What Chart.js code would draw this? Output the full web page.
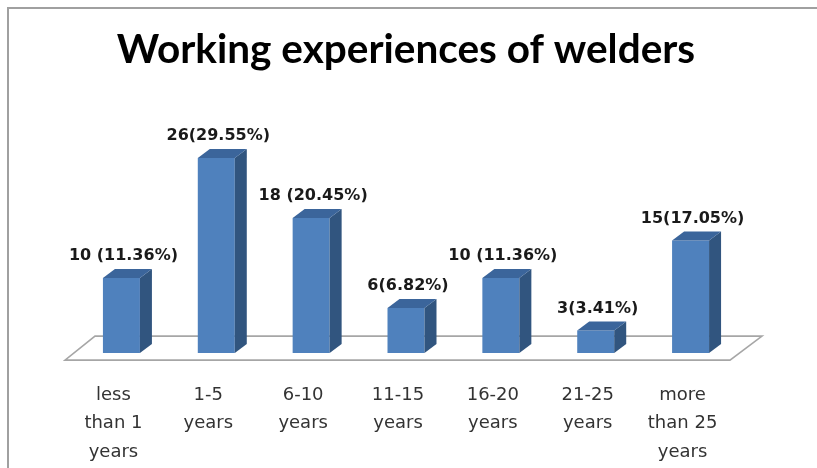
<!DOCTYPE html>
<html>
<head>
<meta charset="utf-8">
<script src="https://cdn.jsdelivr.net/npm/chart.js@4"></script>
<style>
    html, body { margin: 0; padding: 0; background: #fff; overflow: hidden; }
    #wrap { position: relative; width: 817px; height: 468px; }
    #frame {
        position: absolute; left: 7px; top: 7px; width: 820px; height: 470px;
        border-left: 2px solid #a0a0a0; border-top: 2px solid #a0a0a0;
    }
    canvas { position: absolute; left: 0; top: 0; }
</style>
</head>
<body>
<div id="wrap">
    <div id="frame"></div>
    <canvas id="chart" width="817" height="468"></canvas>
</div>
<script>
const categories = [
    ["less", "than 1", "years"],
    ["1-5", "years"],
    ["6-10", "years"],
    ["11-15", "years"],
    ["16-20", "years"],
    ["21-25", "years"],
    ["more", "than 25", "years"]
];
const counts = [10, 26, 18, 6, 10, 3, 15];
const valueLabels = [
    "10 (11.36%)", "26(29.55%)", "18 (20.45%)", "6(6.82%)",
    "10 (11.36%)", "3(3.41%)", "15(17.05%)"
];

// depth of the fake 3d bars
const DX = 12, DY = -9;

const bars3d = {
    id: "bars3d",
    beforeDatasetsDraw(chart) {
        // floor under the bars
        const ctx = chart.ctx;
        const area = chart.chartArea;
        const base = chart.scales.y.getPixelForValue(0);
        const fy = base + 7;
        const x0 = area.left - 9, x1 = area.right - 8;
        ctx.save();
        ctx.beginPath();
        ctx.moveTo(x0, fy);
        ctx.lineTo(x1, fy);
        ctx.lineTo(x1 + 32, fy - 24);
        ctx.lineTo(x0 + 30, fy - 24);
        ctx.closePath();
        ctx.fillStyle = "#ffffff";
        ctx.fill();
        ctx.strokeStyle = "#a6a6a6";
        ctx.lineWidth = 1.6;
        ctx.stroke();
        ctx.restore();
    },
    afterDatasetsDraw(chart) {
        const ctx = chart.ctx;
        const meta = chart.getDatasetMeta(0);
        ctx.save();
        meta.data.forEach((bar, i) => {
            const p = bar.getProps(["x", "y", "base", "width"], true);
            const l = p.x - p.width / 2, r = p.x + p.width / 2;
            // side
            ctx.beginPath();
            ctx.moveTo(r, p.y);
            ctx.lineTo(r + DX, p.y + DY);
            ctx.lineTo(r + DX, p.base + DY);
            ctx.lineTo(r, p.base);
            ctx.closePath();
            ctx.fillStyle = "#31557f";
            ctx.fill();
            // top
            ctx.beginPath();
            ctx.moveTo(l, p.y);
            ctx.lineTo(l + DX, p.y + DY);
            ctx.lineTo(r + DX, p.y + DY);
            ctx.lineTo(r, p.y);
            ctx.closePath();
            ctx.fillStyle = "#3b659b";
            ctx.fill();
            // value label
            ctx.fillStyle = "#1a1a1a";
            ctx.font = "bold 16px 'DejaVu Sans'";
            ctx.textAlign = "center";
            ctx.textBaseline = "middle";
            ctx.fillText(valueLabels[i], p.x + 2, p.y - 22);
        });
        ctx.restore();
    }
};

new Chart(document.getElementById("chart").getContext("2d"), {
    type: "bar",
    data: {
        labels: categories,
        datasets: [{
            data: counts,
            backgroundColor: "#4f81bd",
            borderWidth: 0,
            barPercentage: 0.39,
            categoryPercentage: 1
        }]
    },
    options: {
        responsive: false,
        animation: false,
        events: [],
        layout: { padding: { top: 8, left: 74, right: 79, bottom: -18.4 } },
        plugins: {
            legend: { display: false },
            tooltip: { enabled: false },
            title: {
                display: true,
                text: "Working experiences of welders",
                color: "#000",
                font: { family: "Lato", size: 40.5, weight: "bold", lineHeight: 1.2 },
                padding: { top: 17.7, bottom: 53.7 }
            }
        },
        scales: {
            x: {
                grid: { display: false },
                border: { display: false },
                ticks: {
                    color: "#333",
                    font: { family: "DejaVu Sans", size: 18, lineHeight: 1.58 },
                    padding: 20,
                    labelOffset: -8,
                    maxRotation: 0,
                    autoSkip: false
                }
            },
            y: {
                display: false,
                min: 0,
                max: 30
            }
        }
    },
    plugins: [bars3d]
});
</script>
</body>
</html>
